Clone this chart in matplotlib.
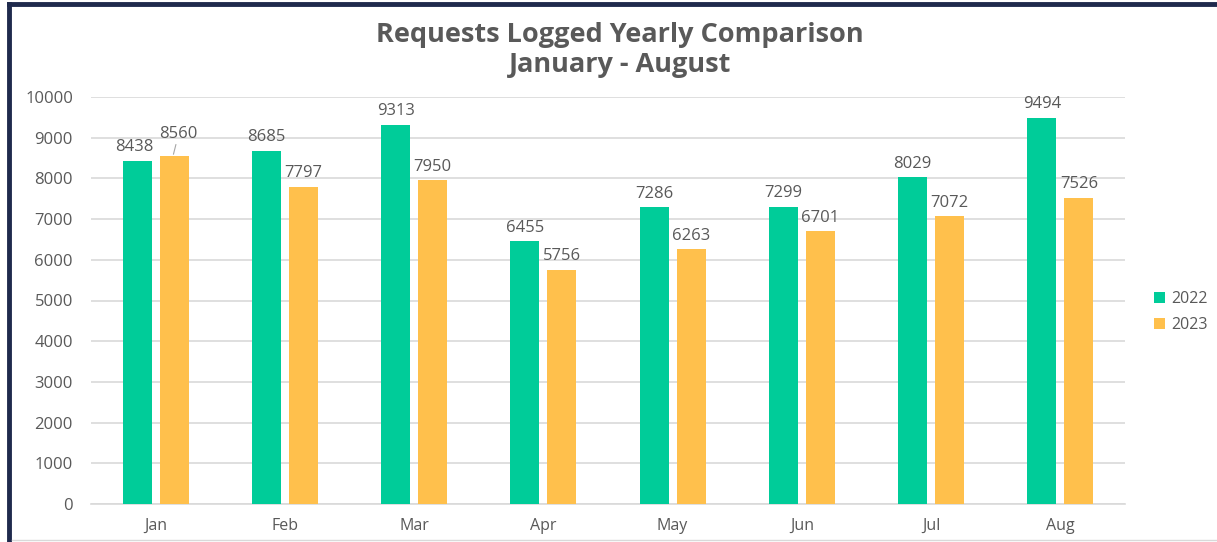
import matplotlib.pyplot as plt
import numpy as np
from matplotlib.lines import Line2D

months = ['Jan', 'Feb', 'Mar', 'Apr', 'May', 'Jun', 'Jul', 'Aug']
requests_2022 = [8438, 8685, 9313, 6455, 7286, 7299, 8029, 9494]
requests_2023 = [8560, 7797, 7950, 5756, 6263, 6701, 7072, 7526]
yticks = [0, 1000, 2000, 3000, 4000, 5000, 6000, 7000, 8000, 9000, 10000]

green = '#00CC99'
orange = '#FFC04C'
text_col = '#595959'

plt.rcParams['font.family'] = ['Open Sans', 'DejaVu Sans']

fig = plt.figure(figsize=(12.17, 5.42), dpi=100)
ax = fig.add_axes([91 / 1217, 38 / 542, 1034 / 1217, 407 / 542])

x = np.arange(len(months))
width = 0.224
offset = 0.143
bars_a = ax.bar(x - offset, requests_2022, width, color=green, label='2022', zorder=3)
bars_b = ax.bar(x + offset, requests_2023, width, color=orange, label='2023', zorder=3)

for i, (bar, v) in enumerate(zip(bars_a, requests_2022)):
    dx = -2 if i == 0 else 0
    ax.annotate(str(v), (bar.get_x() + bar.get_width() / 2, v), xytext=(dx, 4),
                textcoords='offset points', ha='center', va='bottom',
                fontsize=12, color=text_col)
for i, (bar, v) in enumerate(zip(bars_b, requests_2023)):
    if i == 0:
        # Jan 2023 label sits slightly higher with a leader line
        ax.annotate(str(v), (bar.get_x() + bar.get_width() / 2 - 1 / 129, v),
                    xytext=(4, 10), textcoords='offset points', ha='center', va='bottom',
                    fontsize=12, color=text_col,
                    arrowprops=dict(arrowstyle='-', color='#a6a6a6', lw=0.8,
                                    shrinkA=0, shrinkB=1))
    else:
        ax.annotate(str(v), (bar.get_x() + bar.get_width() / 2, v), xytext=(0, 4),
                    textcoords='offset points', ha='center', va='bottom',
                    fontsize=12, color=text_col)

ax.set_xlim(-0.5, len(months) - 0.5)
ax.set_ylim(0, 10000)
ax.set_yticks(yticks)
ax.set_xticks(x)
ax.set_xticklabels(months)
ax.grid(axis='y', color='#d9d9d9', linewidth=1.2, zorder=0)
for s in ['top', 'right', 'left']:
    ax.spines[s].set_visible(False)
ax.spines['bottom'].set_color('#d9d9d9')
ax.spines['bottom'].set_linewidth(1.2)
ax.tick_params(axis='y', length=0, pad=13, labelsize=12, labelcolor=text_col)
ax.tick_params(axis='x', length=0, pad=10, labelsize=11.5, labelcolor=text_col)

fig.text(620 / 1217, 1 - 50 / 542, 'Requests Logged Yearly Comparison\nJanuary - August',
         ha='center', va='center', fontsize=19.5, fontweight='bold', color=text_col,
         linespacing=1.15)

leg = fig.legend(handles=[bars_a, bars_b], labels=['2022', '2023'],
                 loc='center left', bbox_to_anchor=(1154 / 1217, 1 - 312 / 542),
                 frameon=False, fontsize=11.5, handlelength=0.7, handleheight=0.7,
                 handletextpad=0.4, labelspacing=0.6, borderpad=0, borderaxespad=0)
for t in leg.get_texts():
    t.set_color(text_col)

# frame around the chart
fig.add_artist(Line2D([9 / 1217, 9 / 1217], [0, 1 - 4 / 542], color='#1f2a4d', lw=3.5))
fig.add_artist(Line2D([9 / 1217, 1], [1 - 4 / 542, 1 - 4 / 542], color='#1f2a4d', lw=3.5))
fig.add_artist(Line2D([12 / 1217, 1], [2 / 542, 2 / 542], color='#d9d9d9', lw=1))

fig.savefig('out.png', dpi=100)
